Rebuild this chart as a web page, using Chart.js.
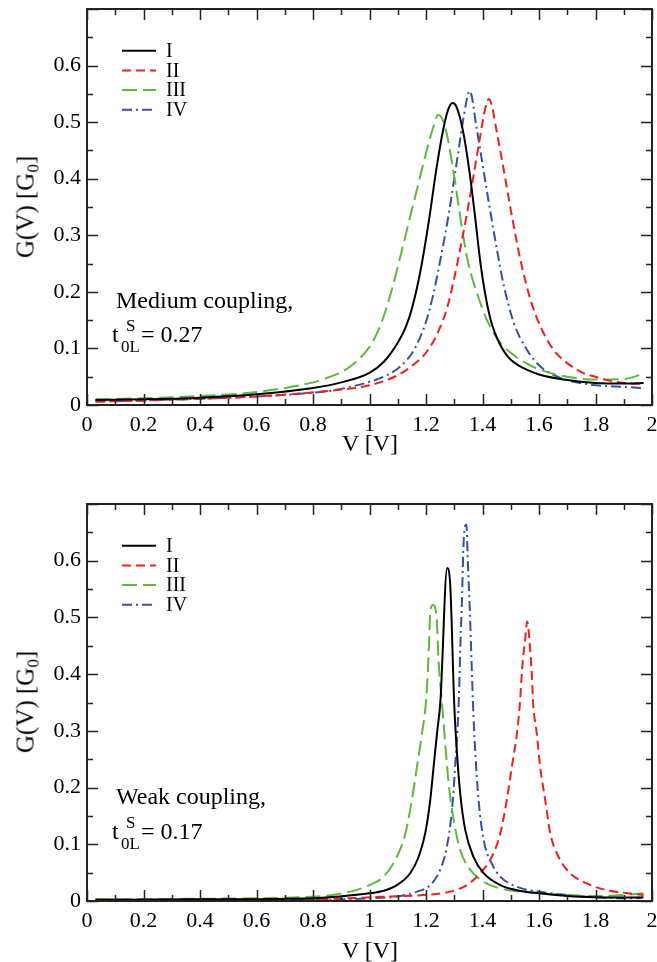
<!DOCTYPE html>
<html><head><meta charset="utf-8">
<script src="https://cdn.jsdelivr.net/npm/chart.js@4/dist/chart.umd.min.js"></script>
<style>
html,body{margin:0;padding:0;background:#fff;}
body{width:657px;height:962px;position:relative;overflow:hidden;font-family:"Liberation Serif","Times New Roman",serif;color:#000;}
.cw{position:absolute;left:0;width:657px;}
.txt{position:absolute;white-space:nowrap;line-height:1;}
.ytitle{position:absolute;white-space:nowrap;line-height:1;font-size:25px;transform:translate(-50%,-50%) rotate(-90deg);}
.ytitle sub{font-size:17px;vertical-align:-5px;line-height:0;}
.ann{font-size:24px;}
.sm{font-size:17px;}
.xt{font-size:24px;transform:translateX(-50%);}
</style></head><body>
<div class="cw" style="top:0;height:470px"><canvas id="c1" width="657" height="470"></canvas></div>
<div class="cw" style="top:470px;height:492px"><canvas id="c2" width="657" height="492"></canvas></div>

<div class="ytitle" style="left:25px;top:207px">G(V) [G<sub>0</sub>]</div>
<div class="ytitle" style="left:25px;top:702px">G(V) [G<sub>0</sub>]</div>
<div class="txt xt" style="left:370px;top:431px">V [V]</div>
<div class="txt xt" style="left:370px;top:938px">V [V]</div>

<div class="txt ann" style="left:116px;top:288px">Medium coupling,</div>
<div class="txt ann" style="left:112px;top:322px">t</div>
<div class="txt sm" style="left:126px;top:317px">S</div>
<div class="txt sm" style="left:121px;top:338px">0L</div>
<div class="txt ann" style="left:141px;top:322px">= 0.27</div>

<div class="txt ann" style="left:116px;top:784px">Weak coupling,</div>
<div class="txt ann" style="left:112px;top:819px">t</div>
<div class="txt sm" style="left:126px;top:814px">S</div>
<div class="txt sm" style="left:121px;top:835px">0L</div>
<div class="txt ann" style="left:141px;top:819px">= 0.17</div>

<script>
// ---------- labels / ticks ----------
const seriesLabels = ['I', 'II', 'III', 'IV'];
const xTickValues = [0, 0.2, 0.4, 0.6, 0.8, 1, 1.2, 1.4, 1.6, 1.8, 2];
const yTickValues = [0, 0.1, 0.2, 0.3, 0.4, 0.5, 0.6];

// ---------- data: top panel (medium coupling, t = 0.27) ----------
const topV_I = [0.03, 0.2, 0.4, 0.6, 0.8, 0.9, 1.0, 1.05, 1.1, 1.13, 1.15, 1.18, 1.21, 1.237, 1.261, 1.279, 1.294, 1.308, 1.332, 1.355, 1.372, 1.393, 1.41, 1.428, 1.445, 1.463, 1.48, 1.5, 1.53, 1.558, 1.6, 1.7, 1.8, 1.9, 1.97];
const topG_I = [0.009, 0.010, 0.013, 0.019, 0.030, 0.040, 0.057, 0.076, 0.110, 0.140, 0.170, 0.236, 0.325, 0.418, 0.487, 0.523, 0.534, 0.527, 0.482, 0.408, 0.340, 0.250, 0.195, 0.152, 0.126, 0.106, 0.092, 0.080, 0.069, 0.062, 0.054, 0.044, 0.039, 0.038, 0.039];

const topV_II = [0.03, 0.2, 0.4, 0.6, 0.755, 0.932, 1.0, 1.05, 1.097, 1.145, 1.204, 1.239, 1.275, 1.298, 1.322, 1.342, 1.361, 1.379, 1.397, 1.41, 1.423, 1.435, 1.449, 1.473, 1.50, 1.534, 1.57, 1.605, 1.652, 1.7, 1.759, 1.8, 1.84, 1.9, 1.97];
const topG_II = [0.006, 0.008, 0.011, 0.015, 0.0205, 0.029, 0.035, 0.042, 0.052, 0.067, 0.095, 0.125, 0.172, 0.220, 0.278, 0.330, 0.384, 0.437, 0.490, 0.525, 0.541, 0.525, 0.487, 0.422, 0.345, 0.257, 0.186, 0.139, 0.097, 0.074, 0.056, 0.050, 0.044, 0.039, 0.037];

const topV_III = [0.03, 0.2, 0.4, 0.6, 0.8, 0.85, 0.9, 0.944, 1.0, 1.038, 1.074, 1.109, 1.14, 1.17, 1.2, 1.225, 1.243, 1.26, 1.273, 1.296, 1.314, 1.333, 1.35, 1.381, 1.416, 1.463, 1.511, 1.558, 1.605, 1.7, 1.8, 1.9, 1.97];
const topG_III = [0.010, 0.012, 0.016, 0.023, 0.040, 0.048, 0.058, 0.073, 0.103, 0.140, 0.195, 0.262, 0.325, 0.385, 0.445, 0.490, 0.513, 0.503, 0.481, 0.416, 0.357, 0.295, 0.250, 0.197, 0.150, 0.110, 0.088, 0.073, 0.062, 0.050, 0.045, 0.046, 0.055];

const topV_IV = [0.03, 0.2, 0.4, 0.6, 0.755, 0.873, 0.932, 1.0, 1.05, 1.109, 1.157, 1.198, 1.227, 1.251, 1.28, 1.296, 1.314, 1.332, 1.355, 1.379, 1.402, 1.425, 1.451, 1.475, 1.511, 1.558, 1.605, 1.652, 1.7, 1.8, 1.9, 1.965];
const topG_IV = [0.006, 0.008, 0.011, 0.015, 0.020, 0.026, 0.032, 0.041, 0.050, 0.068, 0.097, 0.144, 0.198, 0.257, 0.336, 0.387, 0.446, 0.505, 0.555, 0.490, 0.420, 0.350, 0.275, 0.212, 0.145, 0.097, 0.068, 0.053, 0.044, 0.035, 0.032, 0.030];

// ---------- data: bottom panel (weak coupling, t = 0.17) ----------
const botV_I = [0.03, 0.4, 0.8, 0.897, 1.0, 1.05, 1.097, 1.144, 1.174, 1.197, 1.215, 1.227, 1.239, 1.251, 1.275, 1.286, 1.30, 1.309, 1.321, 1.339, 1.368, 1.404, 1.463, 1.522, 1.6, 1.7, 1.8, 1.9, 1.97];
const botG_I = [0.002, 0.003, 0.005, 0.008, 0.0135, 0.018, 0.028, 0.049, 0.078, 0.119, 0.178, 0.237, 0.296, 0.352, 0.587, 0.555, 0.346, 0.266, 0.190, 0.125, 0.078, 0.049, 0.028, 0.019, 0.0135, 0.0088, 0.0065, 0.006, 0.0065];

const botV_II = [0.03, 0.8, 1.05, 1.192, 1.286, 1.345, 1.392, 1.433, 1.463, 1.486, 1.504, 1.522, 1.533, 1.54, 1.552, 1.558, 1.567, 1.575, 1.579, 1.592, 1.604, 1.622, 1.64, 1.669, 1.71, 1.769, 1.84, 1.9, 1.97];
const botG_II = [0.002, 0.003, 0.0076, 0.0106, 0.0165, 0.028, 0.049, 0.078, 0.119, 0.178, 0.237, 0.296, 0.352, 0.408, 0.466, 0.493, 0.455, 0.396, 0.350, 0.296, 0.237, 0.178, 0.119, 0.078, 0.049, 0.031, 0.019, 0.0147, 0.0106];

const botV_III = [0.03, 0.4, 0.8, 0.932, 1.0, 1.05, 1.097, 1.127, 1.15, 1.168, 1.186, 1.201, 1.21, 1.2155, 1.225, 1.237, 1.245, 1.256, 1.268, 1.28, 1.298, 1.321, 1.357, 1.404, 1.463, 1.58, 1.7, 1.8, 1.9, 1.97];
const botG_III = [0.003, 0.004, 0.0076, 0.0165, 0.028, 0.043, 0.078, 0.119, 0.178, 0.237, 0.296, 0.358, 0.443, 0.513, 0.522, 0.502, 0.420, 0.352, 0.278, 0.208, 0.143, 0.090, 0.055, 0.034, 0.022, 0.0147, 0.0106, 0.0088, 0.0106, 0.0135];

const botV_IV = [0.03, 0.8, 1.0, 1.109, 1.168, 1.215, 1.25, 1.274, 1.292, 1.303, 1.316, 1.322, 1.328, 1.333, 1.343, 1.348, 1.355, 1.361, 1.366, 1.374, 1.386, 1.404, 1.433, 1.463, 1.522, 1.6, 1.7, 1.8, 1.9, 1.965];
const botG_IV = [0.0015, 0.002, 0.0047, 0.0088, 0.0165, 0.028, 0.055, 0.096, 0.161, 0.237, 0.352, 0.455, 0.543, 0.631, 0.664, 0.600, 0.514, 0.426, 0.352, 0.266, 0.178, 0.108, 0.066, 0.043, 0.025, 0.0165, 0.0106, 0.0065, 0.0047, 0.0053];

// ---------- styles ----------
const colors = ['#000000', '#f41e1e', '#5cb93e', '#3352a6'];
const dashes = [[], [9, 5], [15, 6], [10, 4, 2, 4]];

function pts(xs, ys) { return xs.map((x, i) => ({ x: x, y: ys[i] })); }
function makeSets(list) {
  return list.map((p, i) => ({
    label: seriesLabels[i],
    data: pts(p[0], p[1]),
    borderColor: colors[i],
    borderDash: dashes[i],
    borderWidth: 2,
    pointRadius: 0,
    fill: false,
    cubicInterpolationMode: 'monotone'
  }));
}
function fmt(v) { return String(+(+v).toFixed(2)); }

const FONT = '"Liberation Serif", "Times New Roman", serif';

const framePlugin = {
  id: 'frame',
  afterDatasetsDraw(chart) {
    const ctx = chart.ctx, a = chart.chartArea;
    const xs = chart.scales.x, ys = chart.scales.y;
    ctx.save();
    ctx.strokeStyle = '#222';
    ctx.lineWidth = 1.5;
    ctx.setLineDash([]);
    ctx.beginPath();
    for (let k = 0; k <= 20; k++) {
      const v = k / 10;
      const px = Math.round(xs.getPixelForValue(v)) + 0.5;
      const len = (k % 2 === 0) ? 11 : 6;
      ctx.moveTo(px, a.bottom); ctx.lineTo(px, a.bottom - len);
      ctx.moveTo(px, a.top); ctx.lineTo(px, a.top + len);
    }
    for (let k = 0; k <= 14; k++) {
      const v = k / 20;
      const py = Math.round(ys.getPixelForValue(v)) + 0.5;
      const len = (k % 2 === 0) ? 11 : 6;
      ctx.moveTo(a.left, py); ctx.lineTo(a.left + len, py);
      ctx.moveTo(a.right, py); ctx.lineTo(a.right - len, py);
    }
    ctx.stroke();
    ctx.lineWidth = 2;
    ctx.strokeRect(a.left, a.top, a.right - a.left, a.bottom - a.top);

    chart.data.datasets.forEach((ds, i) => {
      const y = a.top + 41.7 + i * 19.7;
      ctx.beginPath();
      ctx.strokeStyle = ds.borderColor;
      ctx.lineWidth = 2;
      ctx.setLineDash(ds.borderDash);
      ctx.moveTo(122, y); ctx.lineTo(156, y);
      ctx.stroke();
      ctx.setLineDash([]);
      ctx.fillStyle = '#000';
      ctx.font = '20px ' + FONT;
      ctx.textBaseline = 'middle';
      ctx.textAlign = 'left';
      ctx.fillText(ds.label, 166, y + 1);
    });
    ctx.restore();
  }
};

function zeroPad(s) { s.paddingTop = 0; s.paddingBottom = 0; s.paddingLeft = 0; s.paddingRight = 0; }

function makeChart(id, sets, padTop, xH) {
  return new Chart(document.getElementById(id), {
    type: 'line',
    data: { datasets: sets },
    options: {
      responsive: false,
      animation: false,
      layout: { padding: { top: padTop, right: 5, left: 0, bottom: 0 } },
      plugins: { legend: { display: false }, tooltip: { enabled: false } },
      scales: {
        x: {
          type: 'linear', min: 0, max: 2,
          afterFit(s) { s.height = xH; zeroPad(s); },
          afterBuildTicks(s) { s.ticks = xTickValues.map(v => ({ value: v })); },
          grid: { display: false, drawTicks: false },
          border: { display: false },
          ticks: { padding: 7, color: '#000', maxRotation: 0, autoSkip: false, font: { family: FONT, size: 22 }, callback: v => fmt(v) }
        },
        y: {
          type: 'linear', min: 0, max: 0.7,
          afterFit(s) { s.width = 87; zeroPad(s); },
          afterBuildTicks(s) { s.ticks = yTickValues.map(v => ({ value: v })); },
          grid: { display: false, drawTicks: false },
          border: { display: false },
          ticks: { padding: 6, color: '#000', autoSkip: false, font: { family: FONT, size: 22 }, callback: v => fmt(v) }
        }
      }
    },
    plugins: [framePlugin]
  });
}

makeChart('c1', makeSets([[topV_I, topG_I], [topV_II, topG_II], [topV_III, topG_III], [topV_IV, topG_IV]]), 9, 65);
makeChart('c2', makeSets([[botV_I, botG_I], [botV_II, botG_II], [botV_III, botG_III], [botV_IV, botG_IV]]), 34, 61);
</script>
</body></html>
